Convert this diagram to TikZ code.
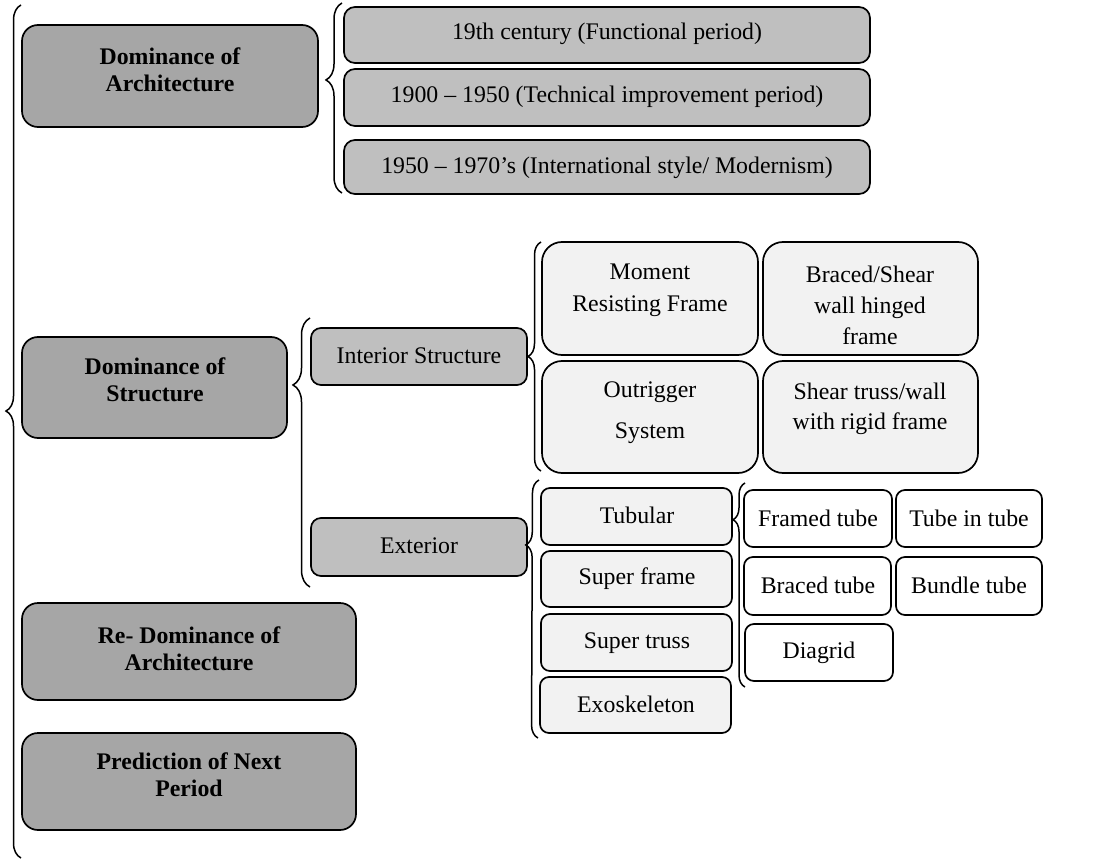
\documentclass[tikz,border=0pt]{standalone}
\usepackage{fontspec}
\setmainfont{Liberation Serif}
\usetikzlibrary{decorations.pathreplacing}
\definecolor{dgray}{HTML}{A6A6A6}
\definecolor{mgray}{HTML}{BFBFBF}
\definecolor{lgray}{HTML}{F2F2F2}
% #1 style, #2 name, #3 x1, #4 y1, #5 x2, #6 y2 (pixel coordinates)
\newcommand{\mybox}[6]{%
  \node[#1, minimum width={#5-#3}, minimum height={#6-#4}] (#2) at ({(#3+#5)/2},{(#4+#6)/2}) {};}
\begin{document}
\begin{tikzpicture}[x=1pt,y=-1pt,
  box/.style={draw, line width=1.7pt, inner sep=0pt, outer sep=0pt, rectangle},
  bigbox/.style={box, fill=dgray, rounded corners=16pt},
  perbox/.style={box, fill=mgray, rounded corners=11pt},
  midbox/.style={box, fill=mgray, rounded corners=10pt},
  sysbox/.style={box, fill=lgray, rounded corners=20pt},
  extbox/.style={box, fill=lgray, rounded corners=9pt},
  tubebox/.style={box, fill=white, rounded corners=9pt},
  txt/.style={font=\fontsize{23.8}{#1}\selectfont, align=center, inner sep=0pt},
  txt/.default=27,
  btxt/.style={txt=#1, font=\fontsize{23.8}{#1}\selectfont\bfseries},
  btxt/.default=27,
  brc/.style={decorate, line width=1.5pt}
]
\useasboundingbox (0,0) rectangle (1108,861);

% main periods
\mybox{bigbox}{arch}{22}{25}{318}{127}
\mybox{bigbox}{struct}{22}{337}{287}{438}
\mybox{bigbox}{rearch}{22}{603}{356}{700}
\mybox{bigbox}{pred}{22}{733}{356}{830}
\node[btxt] (arch-t) at (170,70) {Dominance of\\Architecture};
\node[btxt] (struct-t) at (155,380) {Dominance of\\Structure};
\node[btxt] (rearch-t) at (189,649) {Re- Dominance of\\Architecture};
\node[btxt] (pred-t) at (189,775) {Prediction of Next\\Period};

% architecture periods
\mybox{perbox}{p1}{344}{7}{870}{63}
\mybox{perbox}{p2}{344}{69}{870}{126}
\mybox{perbox}{p3}{344}{140}{870}{194}
\node[txt] (p1-t) at (607,34) {19th century (Functional period)};
\node[txt] (p2-t) at (607,97) {1900 – 1950 (Technical improvement period)};
\node[txt] (p3-t) at (607,168) {1950 – 1970’s (International style/ Modernism)};

% structure
\mybox{midbox}{int}{311}{328}{527}{385}
\mybox{midbox}{ext}{311}{518}{527}{576}
\node[txt] (int-t) at (419,356) {Interior Structure};
\node[txt] (ext-t) at (419,546) {Exterior};

% interior systems
\mybox{sysbox}{mrf}{542}{242}{758}{355}
\mybox{sysbox}{bsw}{763}{242}{978}{355}
\mybox{sysbox}{os}{542}{361}{758}{473}
\mybox{sysbox}{stw}{763}{361}{978}{473}
\node[txt=32] (mrf-t) at (650,290) {Moment\\Resisting Frame};
\node[txt=31] (bsw-t) at (870,305) {Braced/Shear\\wall hinged\\frame};
\node[txt=41] (os-t) at (650,413) {Outrigger\\System};
\node[txt=30] (stw-t) at (870,409) {Shear truss/wall\\with rigid frame};

% exterior systems
\mybox{extbox}{tub}{541}{488}{732}{545}
\mybox{extbox}{sfr}{541}{551}{732}{607}
\mybox{extbox}{str}{541}{614}{732}{671}
\mybox{extbox}{exo}{540}{677}{731}{733}
\node[txt] (tub-t) at (637,515) {Tubular};
\node[txt] (sfr-t) at (637,579) {Super frame};
\node[txt] (str-t) at (637,643) {Super truss};
\node[txt] (exo-t) at (636,704) {Exoskeleton};

% tubes
\mybox{tubebox}{ft}{744}{490}{892}{547}
\mybox{tubebox}{tit}{896}{490}{1042}{547}
\mybox{tubebox}{bt}{744}{557}{891}{615}
\mybox{tubebox}{bun}{896}{557}{1042}{615}
\mybox{tubebox}{dia}{745}{624}{893}{681}
\node[txt] (ft-t) at (818,518) {Framed tube};
\node[txt] (tit-t) at (969,518) {Tube in tube};
\node[txt] (bt-t) at (818,585) {Braced tube};
\node[txt] (bun-t) at (969,585) {Bundle tube};
\node[txt] (dia-t) at (819,653) {Diagrid};

% braces
\coordinate (lbtop) at (21,5);
\coordinate (lbbot) at (21,858);
\draw[brc, decoration={brace, amplitude=15pt, aspect=0.524}] (lbbot) -- (lbtop);
\draw[brc, decoration={brace, amplitude=16pt, aspect=0.595}]
  ([xshift=-2pt,yshift=1pt]p3.south west) -- ([xshift=-2pt,yshift=4pt]p1.north west);
\draw[brc, decoration={brace, amplitude=17pt, aspect=0.751}]
  ([xshift=-1pt,yshift=-11pt]ext.south west) -- ([xshift=-1pt,yshift=10pt]int.north west);
\draw[brc, decoration={brace, amplitude=13pt, aspect=0.5}]
  ([xshift=-1pt,yshift=2pt]os.south west) -- ([xshift=-1pt]mrf.north west);
\draw[brc, decoration={brace, amplitude=13pt, aspect=0.748}]
  ([xshift=-2pt,yshift=-5pt]exo.south west) -- ([xshift=-2pt,yshift=8pt]tub.north west);
\draw[brc, decoration={brace, amplitude=12pt, aspect=0.82}]
  ([yshift=-6pt]dia.south west) -- ([xshift=1pt,yshift=7pt]ft.north west);
\end{tikzpicture}
\end{document}
